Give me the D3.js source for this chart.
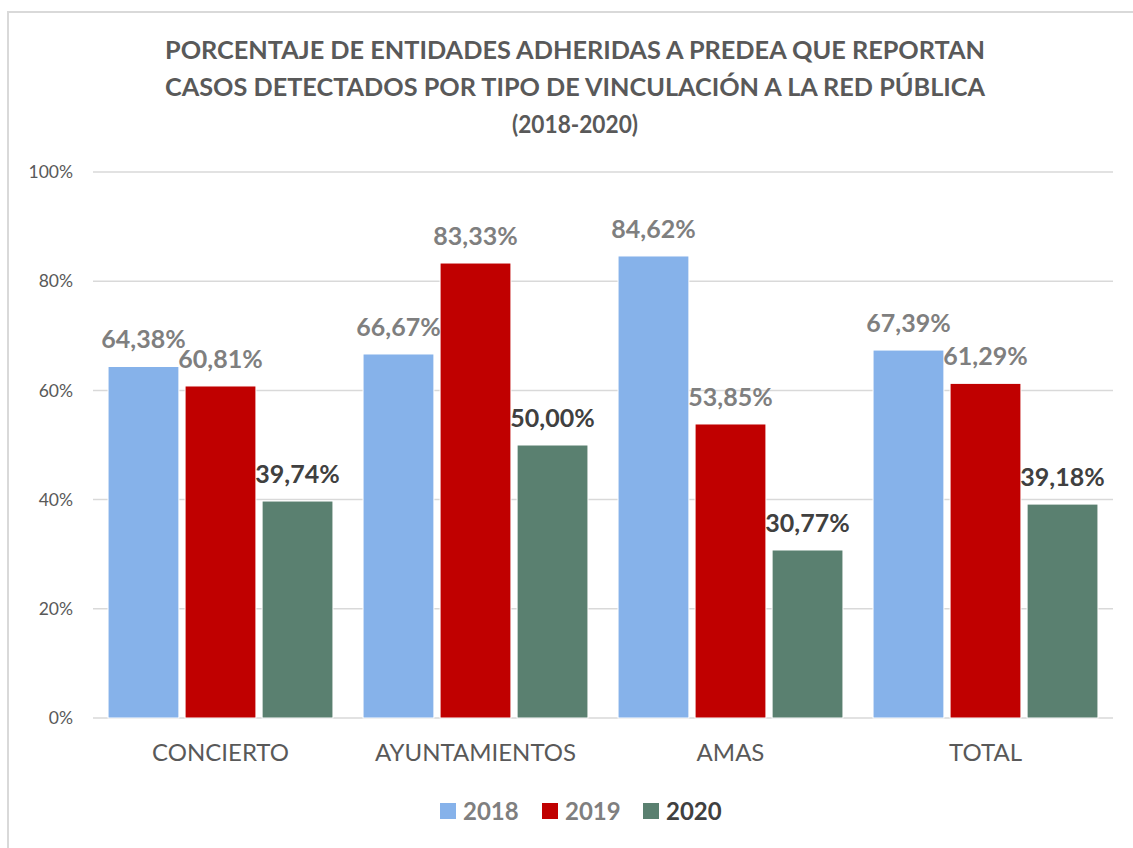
<!DOCTYPE html>
<html>
<head>
<meta charset="utf-8">
<script src="https://cdn.jsdelivr.net/npm/d3@7"></script>
<style>
  body { margin: 0; background: #fff; }
  #chart { width: 1133px; height: 848px; }
</style>
</head>
<body>
<div id="chart"></div>
<script>
// Chart data
const categories = ['CONCIERTO', 'AYUNTAMIENTOS', 'AMAS', 'TOTAL'];
const years = ['2018', '2019', '2020'];
const values2018 = [64.38, 66.67, 84.62, 67.39];
const values2019 = [60.81, 83.33, 53.85, 61.29];
const values2020 = [39.74, 50.00, 30.77, 39.18];
const yTicks = [0, 20, 40, 60, 80, 100];
const titleLines = [
    'PORCENTAJE DE ENTIDADES ADHERIDAS A PREDEA QUE REPORTAN',
    'CASOS DETECTADOS POR TIPO DE VINCULACIÓN A LA RED PÚBLICA',
    '(2018-2020)'
];

const seriesValues = [values2018, values2019, values2020];
const colors = ['#86b2ea', '#c00000', '#5a8070'];
const labelColors = ['#7f7f7f', '#7f7f7f', '#404040'];

const W = 1133, H = 848;
const margin = { top: 172, right: 20, bottom: 130, left: 93 };
const width = W - margin.left - margin.right;
const height = H - margin.top - margin.bottom;

const root = d3.select('#chart')
    .append('svg')
    .attr('width', W)
    .attr('height', H)
    .style('font-family', 'Lato, sans-serif');

// Chart frame (only top and left edges visible)
root.append('rect')
    .attr('x', 8)
    .attr('y', 12)
    .attr('width', W + 20)
    .attr('height', H + 20)
    .attr('fill', '#fff')
    .attr('stroke', '#d9d9d9')
    .attr('stroke-width', 2);

// Title
root.append('g')
    .selectAll('text')
    .data(titleLines)
    .join('text')
    .attr('x', 575)
    .attr('y', (d, i) => 59 + i * 37)
    .attr('text-anchor', 'middle')
    .attr('fill', '#595959')
    .attr('font-weight', 'bold')
    .attr('font-size', 25)
    .attr('textLength', (d, i) => [820, 820, 126][i])
    .attr('lengthAdjust', 'spacingAndGlyphs')
    .text(d => d);

const svg = root.append('g')
    .attr('transform', `translate(${margin.left},${margin.top})`);

// Scales
const x0 = d3.scaleBand()
    .domain(categories)
    .range([0, width])
    .paddingInner(0.118)
    .paddingOuter(0.059);

const x1 = d3.scaleBand()
    .domain(years)
    .range([0, x0.bandwidth()])
    .paddingInner(0.08)
    .paddingOuter(0);

const y = d3.scaleLinear()
    .domain([0, 100])
    .range([height, 0]);

// Gridlines
svg.append('g')
    .selectAll('line')
    .data(yTicks)
    .join('line')
    .attr('x1', 0)
    .attr('x2', width)
    .attr('y1', d => y(d))
    .attr('y2', d => y(d))
    .attr('stroke', '#d9d9d9')
    .attr('stroke-width', 1.5);

// Y axis labels
const yAxis = d3.axisLeft(y)
    .tickValues(yTicks)
    .tickSize(0)
    .tickPadding(20)
    .tickFormat(d => d + '%');

svg.append('g')
    .call(yAxis)
    .call(g => g.select('.domain').remove())
    .selectAll('text')
    .attr('fill', '#595959')
    .attr('font-family', 'Lato, sans-serif')
    .attr('font-size', 17.5);

// X axis labels
const xAxis = d3.axisBottom(x0)
    .tickSize(0)
    .tickPadding(26);

svg.append('g')
    .attr('transform', `translate(0,${height})`)
    .call(xAxis)
    .call(g => g.select('.domain').remove())
    .selectAll('text')
    .attr('fill', '#595959')
    .attr('font-family', 'Lato, sans-serif')
    .attr('font-size', 24);

// Bars
const groups = svg.append('g')
    .selectAll('g')
    .data(categories)
    .join('g')
    .attr('transform', d => `translate(${x0(d)},0)`);

const barData = (cat, ci) => years.map((yr, si) => ({ year: yr, si, value: seriesValues[si][ci] }));

groups.selectAll('rect')
    .data((d, ci) => barData(d, ci))
    .join('rect')
    .attr('x', d => x1(d.year))
    .attr('y', d => y(d.value))
    .attr('width', x1.bandwidth())
    .attr('height', d => height - y(d.value))
    .attr('fill', d => colors[d.si])
    .attr('stroke', '#fff')
    .attr('stroke-width', 1);

// Value labels
groups.selectAll('text.value')
    .data((d, ci) => barData(d, ci))
    .join('text')
    .attr('class', 'value')
    .attr('x', d => x1(d.year) + x1.bandwidth() / 2)
    .attr('y', d => y(d.value) - 18)
    .attr('text-anchor', 'middle')
    .attr('font-weight', 'bold')
    .attr('font-size', 25)
    .attr('fill', d => labelColors[d.si])
    .text(d => d.value.toFixed(2).replace('.', ',') + '%');

// Legend
const legendX = [440, 542, 643];
const legend = root.append('g')
    .selectAll('g')
    .data(years)
    .join('g')
    .attr('transform', (d, i) => `translate(${legendX[i]},803)`);

legend.append('rect')
    .attr('width', 16)
    .attr('height', 16)
    .attr('fill', (d, i) => colors[i]);

legend.append('text')
    .attr('x', 23)
    .attr('y', 17)
    .attr('font-weight', 'bold')
    .attr('font-size', 24)
    .attr('fill', (d, i) => labelColors[i])
    .text(d => d);
</script>
</body>
</html>
